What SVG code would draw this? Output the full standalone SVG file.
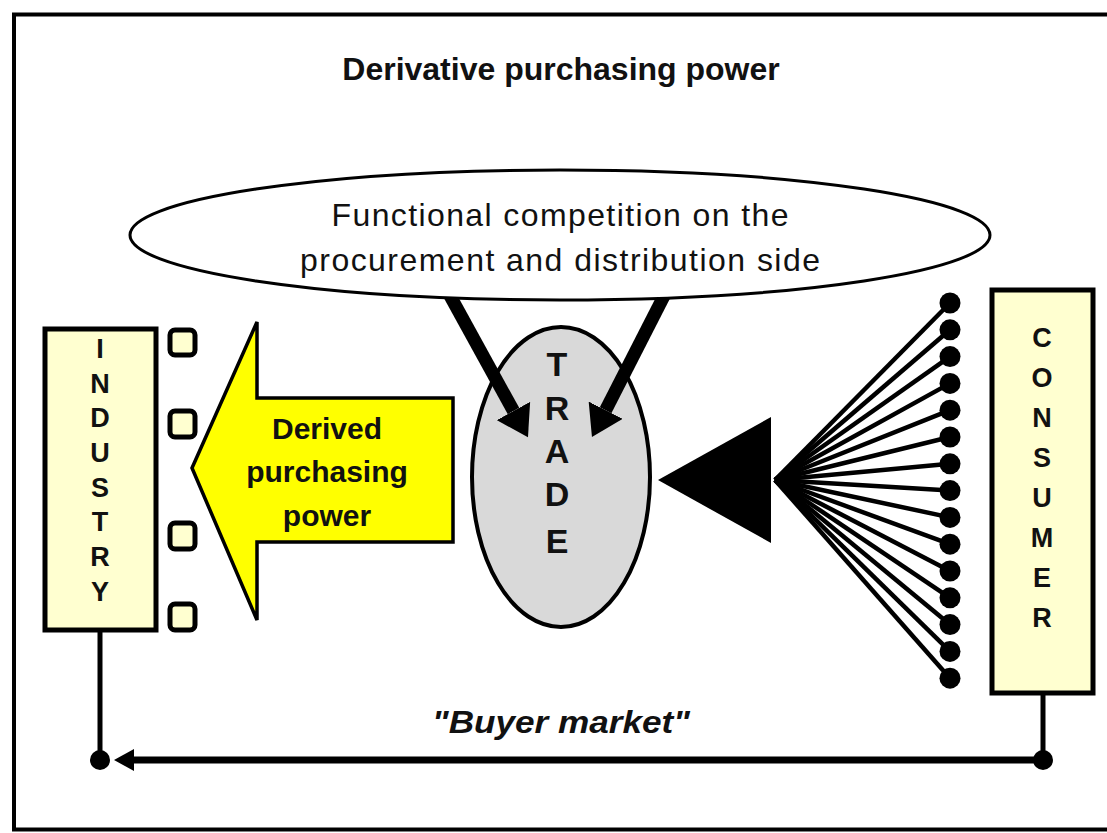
<svg xmlns="http://www.w3.org/2000/svg" width="1107" height="833" viewBox="0 0 1107 833">
<style>
.box{fill:#FFFFD0;stroke:#000;stroke-width:5}
.vl{font-family:"Liberation Sans",Arial,sans-serif;font-weight:bold;font-size:27px;fill:#111;text-anchor:middle}
.tl{font-family:"Liberation Sans",Arial,sans-serif;font-weight:bold;font-size:34px;fill:#111;text-anchor:middle}
.sq{fill:#FFFFD0;stroke:#000;stroke-width:5}
.fan{stroke:#000;stroke-width:4.5;fill:none}
.dot{fill:#000}
.thick{stroke:#000;stroke-width:13;fill:none}
</style>
<defs>
<marker id="bighead" markerUnits="userSpaceOnUse" viewBox="0 0 30 38" refX="0" refY="19" markerWidth="30" markerHeight="38" orient="auto">
<path d="M0,0 L30,19 L0,38 z" fill="#000"/>
</marker>
<marker id="smallhead" markerUnits="userSpaceOnUse" viewBox="0 0 20 22" refX="2" refY="11" markerWidth="20" markerHeight="22" orient="auto">
<path d="M0,0 L20,11 L0,22 z" fill="#000"/>
</marker>
</defs>
<rect x="0" y="0" width="1107" height="833" fill="#fff"/>
<rect x="14" y="14.5" width="1100" height="815" fill="none" stroke="#000" stroke-width="4"/>

<text x="561" y="80" font-family="Liberation Sans,Arial,sans-serif" font-weight="bold" font-size="32" text-anchor="middle" fill="#111">Derivative purchasing power</text>

<g id="trade">
<ellipse cx="561" cy="477" rx="89" ry="150" fill="#D9D9D9" stroke="#000" stroke-width="4"/>
<text class="tl" x="557" y="376">T</text>
<text class="tl" x="557" y="420">R</text>
<text class="tl" x="557" y="463">A</text>
<text class="tl" x="557" y="506">D</text>
<text class="tl" x="557" y="553">E</text>
</g>

<g id="connectors">
<line class="thick" x1="448" y1="292" x2="513.5" y2="411" marker-end="url(#bighead)"/>
<line class="thick" x1="666" y1="292" x2="605.6" y2="410.2" marker-end="url(#bighead)"/>
<g id="fan">
<line class="fan" x1="950" y1="303" x2="775" y2="480"/>
<line class="fan" x1="950" y1="329.8" x2="775" y2="480"/>
<line class="fan" x1="950" y1="356.6" x2="775" y2="480"/>
<line class="fan" x1="950" y1="383.4" x2="775" y2="480"/>
<line class="fan" x1="950" y1="410.2" x2="775" y2="480"/>
<line class="fan" x1="950" y1="437" x2="775" y2="480"/>
<line class="fan" x1="950" y1="463.8" x2="775" y2="480"/>
<line class="fan" x1="950" y1="490.6" x2="775" y2="480"/>
<line class="fan" x1="950" y1="517.4" x2="775" y2="480"/>
<line class="fan" x1="950" y1="544.2" x2="775" y2="480"/>
<line class="fan" x1="950" y1="571" x2="775" y2="480"/>
<line class="fan" x1="950" y1="597.8" x2="775" y2="480"/>
<line class="fan" x1="950" y1="624.6" x2="775" y2="480"/>
<line class="fan" x1="950" y1="651.4" x2="775" y2="480"/>
<line class="fan" x1="950" y1="678.2" x2="775" y2="480"/>
<circle class="dot" cx="950" cy="303" r="10.5"/>
<circle class="dot" cx="950" cy="329.8" r="10.5"/>
<circle class="dot" cx="950" cy="356.6" r="10.5"/>
<circle class="dot" cx="950" cy="383.4" r="10.5"/>
<circle class="dot" cx="950" cy="410.2" r="10.5"/>
<circle class="dot" cx="950" cy="437" r="10.5"/>
<circle class="dot" cx="950" cy="463.8" r="10.5"/>
<circle class="dot" cx="950" cy="490.6" r="10.5"/>
<circle class="dot" cx="950" cy="517.4" r="10.5"/>
<circle class="dot" cx="950" cy="544.2" r="10.5"/>
<circle class="dot" cx="950" cy="571" r="10.5"/>
<circle class="dot" cx="950" cy="597.8" r="10.5"/>
<circle class="dot" cx="950" cy="624.6" r="10.5"/>
<circle class="dot" cx="950" cy="651.4" r="10.5"/>
<circle class="dot" cx="950" cy="678.2" r="10.5"/>
</g>
<polygon points="658,480 771,417 771,543" fill="#000"/>
<line x1="100" y1="632" x2="100" y2="760" stroke="#000" stroke-width="5"/>
<line x1="1043" y1="695" x2="1043" y2="760" stroke="#000" stroke-width="5"/>
<line x1="1043" y1="760" x2="132" y2="760" stroke="#000" stroke-width="7" marker-end="url(#smallhead)"/>
<circle class="dot" cx="100" cy="760" r="10"/>
<circle class="dot" cx="1043" cy="760" r="10"/>
</g>

<g id="competition">
<ellipse cx="560" cy="235" rx="430" ry="65" fill="#fff" stroke="#000" stroke-width="3"/>
<text x="560" y="226" font-family="Liberation Sans,Arial,sans-serif" font-size="32" text-anchor="middle" fill="#111" textLength="457" lengthAdjust="spacing">Functional competition on the</text>
<text x="560" y="271" font-family="Liberation Sans,Arial,sans-serif" font-size="32" text-anchor="middle" fill="#111" textLength="520" lengthAdjust="spacing">procurement and distribution side</text>
</g>

<g id="industry">
<rect class="box" x="45" y="329" width="111" height="301"/>
<text class="vl" x="100" y="358">I</text>
<text class="vl" x="100" y="393">N</text>
<text class="vl" x="100" y="427">D</text>
<text class="vl" x="100" y="462">U</text>
<text class="vl" x="100" y="497">S</text>
<text class="vl" x="100" y="531">T</text>
<text class="vl" x="100" y="566">R</text>
<text class="vl" x="100" y="601">Y</text>
</g>

<g id="ports">
<rect class="sq" x="170" y="330" width="25" height="25" rx="5"/>
<rect class="sq" x="170" y="411" width="25" height="26" rx="5"/>
<rect class="sq" x="170" y="523" width="25" height="26" rx="5"/>
<rect class="sq" x="170" y="604" width="25" height="26" rx="5"/>
</g>

<g id="derived">
<polygon points="192,468 257,322 257,398 453,398 453,542 257,542 257,620" fill="#FFFF00" stroke="#000" stroke-width="3.5" stroke-linejoin="miter"/>
<text x="327" y="439" font-family="Liberation Sans,Arial,sans-serif" font-weight="bold" font-size="30" text-anchor="middle" fill="#111">Derived</text>
<text x="327" y="482" font-family="Liberation Sans,Arial,sans-serif" font-weight="bold" font-size="30" text-anchor="middle" fill="#111">purchasing</text>
<text x="327" y="526" font-family="Liberation Sans,Arial,sans-serif" font-weight="bold" font-size="30" text-anchor="middle" fill="#111">power</text>
</g>

<g id="consumer">
<rect class="box" x="992" y="290" width="101" height="403"/>
<text class="vl" x="1042" y="347">C</text>
<text class="vl" x="1042" y="387">O</text>
<text class="vl" x="1042" y="427">N</text>
<text class="vl" x="1042" y="467">S</text>
<text class="vl" x="1042" y="507">U</text>
<text class="vl" x="1042" y="547">M</text>
<text class="vl" x="1042" y="587">E</text>
<text class="vl" x="1042" y="627">R</text>
</g>

<text x="561" y="733" font-family="Liberation Sans,Arial,sans-serif" font-weight="bold" font-style="italic" font-size="31" text-anchor="middle" fill="#111" textLength="258" lengthAdjust="spacingAndGlyphs">"Buyer market"</text>
</svg>
